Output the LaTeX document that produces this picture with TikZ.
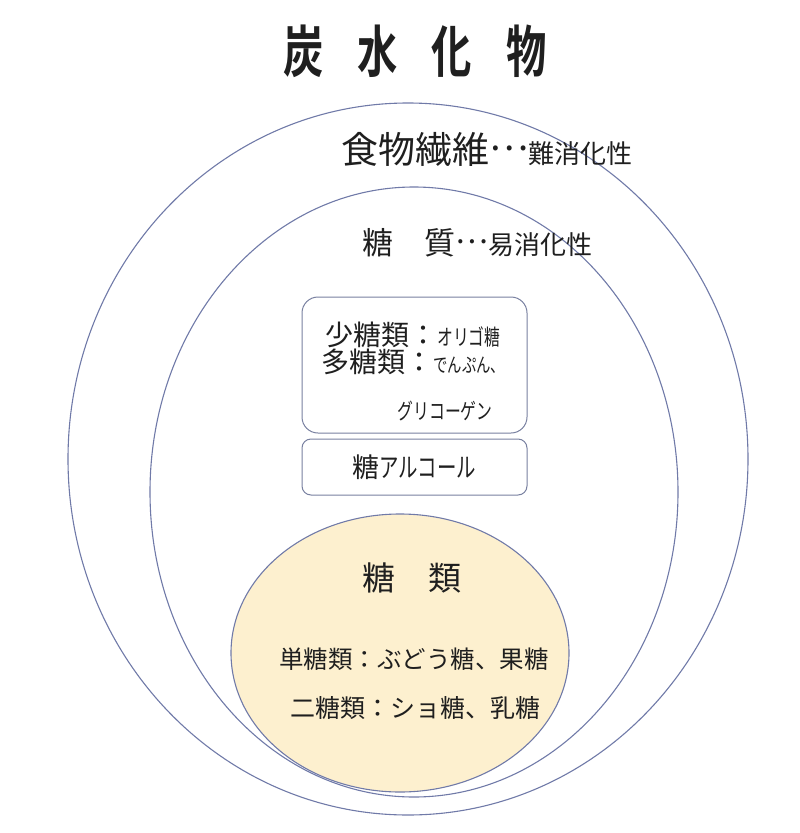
\documentclass[tikz,border=0pt]{standalone}
\usepackage{fontspec}
\setmainfont{Noto Sans CJK JP}
\newfontfamily\narrowjp[FakeStretch=0.72]{Noto Sans CJK JP}
\newfontfamily\titlejp[FakeStretch=0.72]{Noto Sans CJK JP Bold}
\usetikzlibrary{positioning}
\definecolor{ringline}{RGB}{112,122,168}
\definecolor{boxline}{RGB}{120,128,160}
\definecolor{sugarfill}{RGB}{253,240,207}
\newcommand{\fsz}[1]{\fontsize{#1}{#1}\selectfont}
\newcommand{\middots}{\raisebox{0.33em}{…}}

\begin{document}
\begin{tikzpicture}[x=1pt, y=-1pt,
  ring/.style={draw=ringline, line width=1.1pt},
  groupbox/.style={draw=boxline, line width=1pt, fill=white, rounded corners=#1,
                   minimum width=225pt, inner sep=0pt},
  txt/.style={inner sep=0pt, text=black!88}
]
\useasboundingbox (0,0) rectangle (800,833);

% Rings: carbohydrate > digestible > sugars
\draw[ring] (408,459) ellipse [x radius=340pt, y radius=356pt];
\draw[ring] (414,492) ellipse [x radius=264pt, y radius=305pt];
\draw[ring, fill=sugarfill] (400,653) ellipse [x radius=169pt, y radius=139pt];

% Boxes
\node[groupbox=16pt, minimum height=136pt] (polybox) at (414.5,365) {};
\node[groupbox=9pt, minimum height=56pt, below=5pt of polybox] (alcbox) {};

% Title and ring labels
\node[txt, font=\titlejp\fsz{56}] (title) at (415,51)
  {炭\hspace{34pt}水\hspace{34pt}化\hspace{34pt}物};
\node[txt, anchor=base west] (fiber) at (341,163)
  {\fsz{37}食物繊維\middots{\fsz{26}難消化性}};
\node[txt, anchor=base west] (digest) at (362,254)
  {\fsz{31}糖　質\middots{\fsz{26}易消化性}};

% Box texts
\node[txt, anchor=base west] (oligo) at (325,345)
  {\fsz{28}少糖類：{\narrowjp\fsz{22}オリゴ糖}};
\node[txt, anchor=base west] (poly) at (321,372)
  {\fsz{28}多糖類：{\narrowjp\fsz{20}でんぷん、}};
\node[txt] (glyco) at (445,411) {\narrowjp\fsz{22}グリコーゲン};
\node[txt] (alcohol) at (alcbox) {\fsz{27}糖{\narrowjp アルコール}};

% Sugars
\node[txt, font=\fsz{33}] (sugars) at (412,578) {糖　類};
\node[txt, font=\fsz{24.5}] (mono) at (414,659) {単糖類：ぶどう糖、果糖};
\node[txt, font=\fsz{25}] (di) at (415,708) {二糖類：ショ糖、乳糖};
\end{tikzpicture}
\end{document}
